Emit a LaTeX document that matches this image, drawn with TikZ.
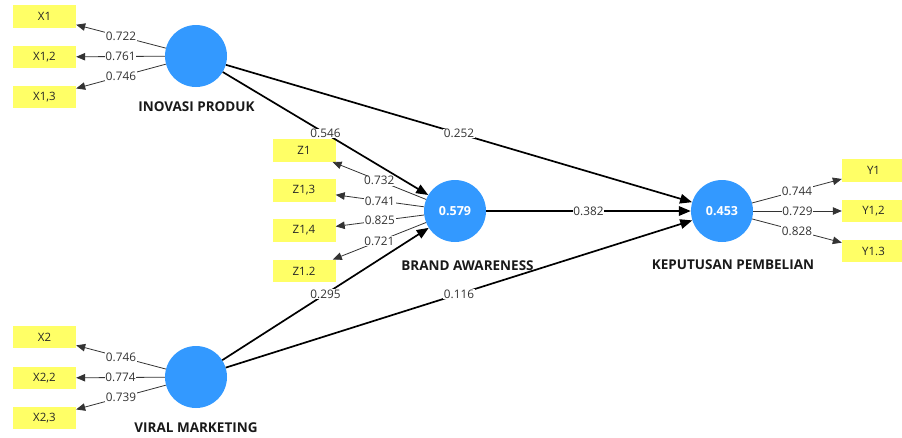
\documentclass[tikz,border=0pt]{standalone}
\usepackage{fontspec}
\setmainfont{Open Sans}
\usetikzlibrary{arrows.meta}
\definecolor{lvblue}{HTML}{3399FF}
\definecolor{mvyellow}{HTML}{FFFF66}
\begin{document}
\begin{tikzpicture}[x=1pt,y=-1pt,
  lv/.style={circle, fill=lvblue, minimum size=62pt, inner sep=0pt, text=white, font=\fontsize{12.5}{14}\selectfont\bfseries},
  mv/.style={fill=mvyellow, minimum width=63pt, minimum height=22.5pt, inner sep=0pt, font=\fontsize{11.5}{13}\selectfont, text=black!85},
  lvname/.style={font=\fontsize{13.5}{15}\selectfont\bfseries, text=black!90},
  pathc/.style={line width=1.7pt, -{Triangle[length=12pt,width=9.5pt]}},
  load/.style={line width=0.8pt, draw=black!80, -{Triangle[length=9pt,width=7.5pt]}},
  coef/.style={fill=white, inner sep=0.6pt, font=\fontsize{11.8}{13}\selectfont, text=black!80}
]
\useasboundingbox (0,0) rectangle (902,437);
% latent variables
\node[lv] (ip) at (196,56) {};
\node[lv] (ba) at (455,211) {0.579};
\node[lv] (kp) at (722,211) {0.453};
\node[lv] (vm) at (196,377) {};
% names
\node[lvname] (ipn) at (196.5,107) {INOVASI PRODUK};
\node[lvname] (ban) at (467.5,266) {BRAND AWARENESS};
\node[lvname] (kpn) at (733,265) {KEPUTUSAN PEMBELIAN};
\node[lvname] (vmn) at (196,428) {VIRAL MARKETING};
% indicators
\node[mv] (x1) at (44.5,16.5) {X1};
\node[mv] (x12) at (44.5,57) {X1,2};
\node[mv] (x13) at (44.5,97) {X1,3};
\node[mv] (z1) at (304,150.5) {Z1};
\node[mv] (z13) at (304,190.5) {Z1,3};
\node[mv] (z14) at (304,230.5) {Z1,4};
\node[mv] (z12) at (304,271) {Z1.2};
\node[mv] (y1) at (873.5,170.5) {Y1};
\node[mv] (y12) at (873.5,211) {Y1,2};
\node[mv] (y13) at (873.5,251) {Y1.3};
\node[mv] (x2) at (44.5,337) {X2};
\node[mv] (x22) at (44.5,378) {X2,2};
\node[mv] (x23) at (44.5,418) {X2,3};
% structural paths
\draw[pathc] (ip) -- node[coef]{0.546} (ba);
\draw[pathc] (ip) -- node[coef]{0.252} (kp);
\draw[pathc] (ba) -- node[coef]{0.382} (kp);
\draw[pathc] (vm) -- node[coef]{0.295} (ba);
\draw[pathc] (vm) -- node[coef]{0.116} (kp);
% loadings
\draw[load] (ip) -- node[coef]{0.722} (x1);
\draw[load] (ip) -- node[coef]{0.761} (x12);
\draw[load] (ip) -- node[coef]{0.746} (x13);
\draw[load] (ba) -- node[coef]{0.732} (z1);
\draw[load] (ba) -- node[coef]{0.741} (z13);
\draw[load] (ba) -- node[coef]{0.825} (z14);
\draw[load] (ba) -- node[coef]{0.721} (z12);
\draw[load] (kp) -- node[coef]{0.744} (y1);
\draw[load] (kp) -- node[coef]{0.729} (y12);
\draw[load] (kp) -- node[coef]{0.828} (y13);
\draw[load] (vm) -- node[coef]{0.746} (x2);
\draw[load] (vm) -- node[coef]{0.774} (x22);
\draw[load] (vm) -- node[coef]{0.739} (x23);
\end{tikzpicture}
\end{document}
